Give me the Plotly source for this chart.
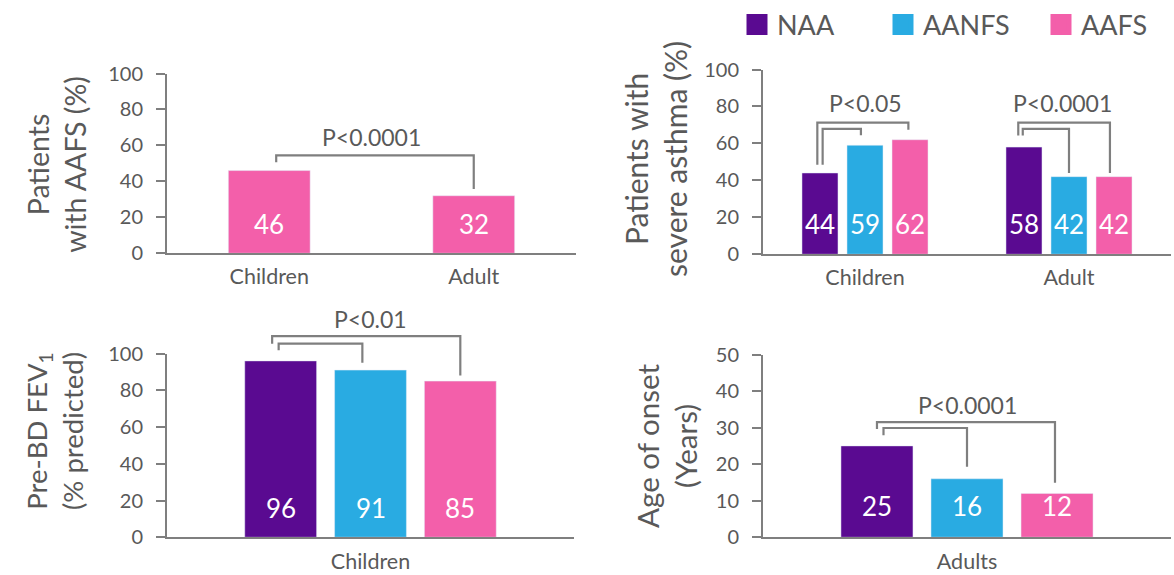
import plotly.graph_objects as go

# ---------------- data ----------------
groups = ["NAA", "AANFS", "AAFS"]
group_colors = ["#5A0A91", "#29ABE2", "#F35FAA"]

tl_categories = ["Children", "Adult"]
tl_aafs = [46, 32]

tr_categories = ["Children", "Adult"]
tr_naa = [44, 58]
tr_aanfs = [59, 42]
tr_aafs = [62, 42]

bl_categories = ["Children"]
bl_fev1 = [96, 91, 85]

br_categories = ["Adults"]
br_onset = [25, 16, 12]

tl_ticks = [0, 20, 40, 60, 80, 100]
tr_ticks = [0, 20, 40, 60, 80, 100]
bl_ticks = [0, 20, 40, 60, 80, 100]
br_ticks = [0, 10, 20, 30, 40, 50]

# significance text
tl_p = "P<0.0001"
tr_p = ["P<0.05", "P<0.0001"]
bl_p = "P<0.01"
br_p = "P<0.0001"

# ---------------- style ----------------
FONT = "Lato"
TXT = "#595959"
LINE = "#7F7F7F"
W, H = 1174, 575
BARGAP = 0.338
GROUPGAP = 0.2
SLOT = (1 - BARGAP) / 3


def px_x(p):
    return p / W


def px_y(p):
    return 1 - p / H


# subplot domains (paper)
dom = {
    "1": ([px_x(167), px_x(576)], [px_y(251), px_y(70)]),
    "2": ([px_x(763), px_x(1171)], [px_y(252), px_y(66)]),
    "3": ([px_x(167), px_x(574)], [px_y(537), px_y(352)]),
    "4": ([px_x(763), px_x(1171)], [px_y(537), px_y(353)]),
}
ymax = {"1": 100, "2": 100, "3": 100, "4": 50}
ncat = {"1": len(tl_categories), "2": len(tr_categories),
        "3": len(bl_categories), "4": len(br_categories)}
xstand = {"1": 3, "2": 3, "3": 4, "4": 4}

fig = go.Figure()

# top-left
fig.add_trace(go.Bar(x=tl_categories, y=tl_aafs, marker_color=group_colors[2],
                     width=0.4, xaxis="x", yaxis="y", showlegend=False,
                     hoverinfo="skip"))
# top-right
for name, vals, col in zip(groups, [tr_naa, tr_aanfs, tr_aafs], group_colors):
    fig.add_trace(go.Bar(x=tr_categories, y=vals, name=name, marker_color=col,
                         xaxis="x2", yaxis="y2", showlegend=False, hoverinfo="skip"))
# bottom-left
for i, (name, col) in enumerate(zip(groups, group_colors)):
    fig.add_trace(go.Bar(x=bl_categories, y=[bl_fev1[i]], name=name, marker_color=col,
                         xaxis="x3", yaxis="y3", showlegend=False, hoverinfo="skip"))
# bottom-right
for i, (name, col) in enumerate(zip(groups, group_colors)):
    fig.add_trace(go.Bar(x=br_categories, y=[br_onset[i]], name=name, marker_color=col,
                         xaxis="x4", yaxis="y4", showlegend=False, hoverinfo="skip"))
# legend entries (one small legend per group so they sit where the reference has them)
legend_ids = ["legend", "legend2", "legend3"]
legend_left = [737, 883, 1041]
for name, col, lid in zip(groups, group_colors, legend_ids):
    fig.add_trace(go.Scatter(x=[None], y=[None], mode="markers", name=name,
                             marker=dict(symbol="square", size=16, color=col,
                                         line=dict(color=col, width=5)),
                             xaxis="x2", yaxis="y2", showlegend=True, legend=lid))

annotations = []
shapes = []


def sfx(ax):
    return "" if ax == "1" else ax


def slot_x(cat, slot):
    return cat + (slot - 1) * SLOT


def label(ax, x, text, shift):
    annotations.append(dict(x=x, y=0, xref="x" + sfx(ax), yref="y" + sfx(ax),
                            text=text, showarrow=False, yanchor="middle",
                            yshift=shift, font=dict(family=FONT, size=26, color="white")))


def bracket(ax, x1, b1, level, x2, b2):
    m = ymax[ax]
    shapes.append(dict(type="path", xref="x" + sfx(ax), yref="y" + sfx(ax) + " domain",
                       path=f"M {x1} {b1/m} L {x1} {level/m} L {x2} {level/m} L {x2} {b2/m}",
                       line=dict(color=LINE, width=2.2)))


def ptext(ax, x, y, text):
    annotations.append(dict(x=x, y=y / ymax[ax], xref="x" + sfx(ax),
                            yref="y" + sfx(ax) + " domain", text=text,
                            showarrow=False, yanchor="middle",
                            font=dict(family=FONT, size=23, color=TXT)))


# value labels
for i, v in enumerate(tl_aafs):
    label("1", i, str(v), 29)
for c in range(2):
    for s, vals in enumerate([tr_naa, tr_aanfs, tr_aafs]):
        label("2", slot_x(c, s), str(vals[c]), 30)
for s, v in enumerate(bl_fev1):
    label("3", slot_x(0, s), str(v), 29)
for s, v in enumerate(br_onset):
    label("4", slot_x(0, s), str(v), 31)

# brackets
bracket("1", 0.034, 50.7, 54.5, 1.0, 35.8)
ptext("1", 0.5, 64.5, tl_p)

bracket("2", slot_x(0, 0) - 0.013, 48.5, 71.3, slot_x(0, 2) - 0.008, 67.4)
bracket("2", slot_x(0, 0) + 0.013, 48.5, 67.9, slot_x(0, 1) - 0.02, 64.4)
bracket("2", slot_x(1, 0) - 0.028, 64.3, 71.3, slot_x(1, 2) - 0.02, 44)
bracket("2", slot_x(1, 0) - 0.006, 64.3, 67.9, slot_x(1, 1), 44)
ptext("2", 0, 81.8, tr_p[0])
ptext("2", 0.97, 81.8, tr_p[1])

bracket("3", slot_x(0, 0) - 0.021, 105.4, 109.5, slot_x(0, 2), 88)
bracket("3", slot_x(0, 0) - 0.005, 101.8, 105.4, slot_x(0, 1) - 0.02, 95)
ptext("3", 0, 118.6, bl_p)

bracket("4", slot_x(0, 0), 29.6, 31.5, slot_x(0, 2) - 0.005, 14.9)
bracket("4", slot_x(0, 0) + 0.016, 27.9, 29.9, slot_x(0, 1), 19.3)
ptext("4", 0, 36.3, br_p)

# axis titles
titles = [
    ("Patients<br>with AAFS (%)", 57, 162, 28.5),
    ("Patients with<br>severe asthma (%)", 656, 156, 30),
    ("Pre-BD FEV<sub>1</sub><br>(% predicted)", 54, 430, 27.5),
    ("Age of onset<br>(Years)", 667, 445, 29.5),
]
for t, x, y, fs in titles:
    annotations.append(dict(x=px_x(x), y=px_y(y), xref="paper", yref="paper", text=t,
                            showarrow=False, textangle=-90, xanchor="center",
                            yanchor="middle",
                            font=dict(family=FONT, size=fs, color=TXT)))

layout = dict(
    width=W, height=H, margin=dict(l=0, r=0, t=0, b=0, pad=0),
    paper_bgcolor="white", plot_bgcolor="white",
    barmode="group", bargap=BARGAP, bargroupgap=GROUPGAP,
    font=dict(family=FONT, color=TXT),
    showlegend=True, hovermode=False,
    annotations=annotations, shapes=shapes,
)
for lid, lx in zip(legend_ids, legend_left):
    layout[lid] = dict(orientation="h", x=px_x(lx), xanchor="left", y=px_y(21),
                       yanchor="middle", font=dict(family=FONT, size=27, color=TXT),
                       itemsizing="trace", bgcolor="rgba(0,0,0,0)")

for k, ticks in zip(["1", "2", "3", "4"], [tl_ticks, tr_ticks, bl_ticks, br_ticks]):
    s = sfx(k)
    layout["xaxis" + s] = dict(domain=dom[k][0], anchor="y" + s, type="category",
                               automargin=False,
                               showline=True, linecolor=LINE, linewidth=2,
                               ticks="", showgrid=False, zeroline=False,
                               tickfont=dict(family=FONT, size=21.5, color=TXT),
                               ticklabelstandoff=xstand[k], range=[-0.5, ncat[k] - 0.5])
    layout["yaxis" + s] = dict(domain=dom[k][1], anchor="x" + s, range=[0, ymax[k]],
                               automargin=False,
                               tickvals=ticks, showline=True, linecolor=LINE, linewidth=2,
                               ticks="outside", ticklen=9, tickwidth=2, tickcolor=LINE,
                               showgrid=False, zeroline=False,
                               tickfont=dict(family=FONT, size=20, color=TXT),
                               ticklabelstandoff=9)

fig.update_layout(**layout)
fig.write_html("out.html", config={"displayModeBar": False, "staticPlot": True},
               post_script="document.body.style.margin='0';document.body.style.overflow='hidden';")
